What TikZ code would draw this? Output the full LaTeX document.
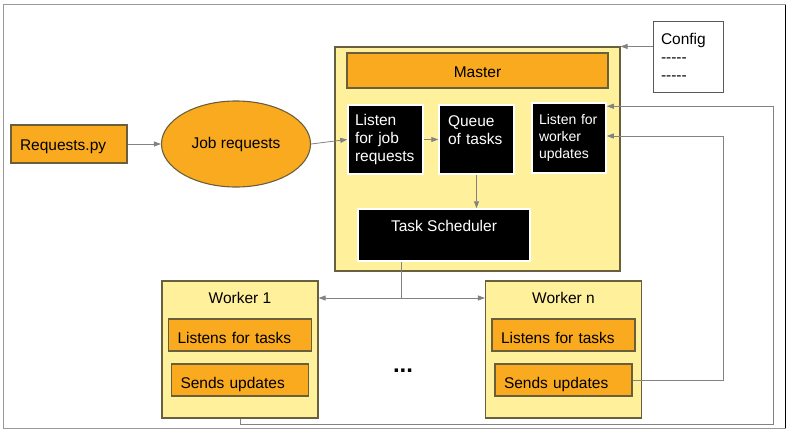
\documentclass[tikz,border=0pt]{standalone}
\usepackage{fontspec}
\setmainfont{Liberation Sans}
\usetikzlibrary{arrows.meta, positioning, calc, shapes.geometric}
\definecolor{boxyellow}{RGB}{255,240,155}
\definecolor{boxorange}{RGB}{250,170,30}
\definecolor{boxedge}{RGB}{105,95,60}
\definecolor{wiregray}{RGB}{130,130,130}
\newcommand{\dashrow}{-\kern0pt-\kern0pt-\kern0pt-\kern0pt-}

\begin{document}
\begin{tikzpicture}[
    x=1pt, y=-1pt,
    font=\fontsize{15.5}{18}\selectfont,
    panel/.style={rectangle, draw=boxedge, line width=1.1pt, fill=boxyellow},
    orangebox/.style={rectangle, draw=boxedge, line width=1.1pt, fill=boxorange,
                      minimum height=32pt, inner xsep=9pt, align=left,
                      text height=16pt, text depth=0pt},
    darkbox/.style={rectangle, draw=white, line width=1.5pt, fill=black,
                    text=white, inner xsep=7pt, align=left},
    arr/.style={draw=wiregray, line width=0.8pt, -{Triangle[length=7pt, width=5pt]}},
    wire/.style={draw=wiregray, line width=0.8pt}
]
\useasboundingbox (0,0) rectangle (791,433);
\draw[gray!80, line width=1pt] (3,5) rectangle (785,428);
\draw[black, line width=1pt] (785,5) -- (785,428);

\node[orangebox, text width=98pt, minimum height=38pt, text height=13pt] (req) at (69,144) {Requests.py};
\node[ellipse, draw=boxedge, line width=1.1pt, fill=boxorange,
      minimum width=149pt, minimum height=86pt] (job) at (236,144) {Job requests};

% master and its parts
\node[panel, minimum width=285pt, minimum height=224pt] (master) at (477.5,159) {};
\node[orangebox, minimum width=261pt, minimum height=35pt, text height=14pt] (head) at (477.5,70.5) {Master};
\node[darkbox, text width=61pt, minimum height=69pt] (ljob) at (385.5,139.5)
     {Listen\\for job\\requests};
\node[darkbox, text width=57pt, inner xsep=9pt, minimum height=69pt] (queue) at (476.5,139.5)
     {Queue\\of tasks\\~};
\node[darkbox, text width=60pt, minimum height=70pt, font=\fontsize{14}{17}\selectfont]
     (lworker) at (569,138) {Listen for\\worker\\updates};
\node[darkbox, align=center, minimum width=172pt, minimum height=52pt] (sched) at (444,235)
     {Task Scheduler\\~};

\node[rectangle, draw=gray!70!black, fill=white, line width=0.9pt, minimum width=70pt,
      minimum height=71pt, text width=54pt, inner xsep=8pt, align=left] (config) at (688,56.5)
     {Config\\\dashrow\\\dashrow};

\foreach \w/\x in {1/240, n/563.5}{
    \node[panel, minimum width=156pt, minimum height=137pt] (w\w) at (\x,349.5) {};
    \node (wt\w) at (\x,298) {Worker \w};
    \node[orangebox, text width=125pt] (lt\w) at (\x,335) {Listens for tasks};
    \node[orangebox, text width=119pt] (su\w) at (\x,380) {Sends updates};
}
\node[font=\fontsize{24}{24}\selectfont\bfseries] (dots) at (403,371) {...};

\draw[arr] (req) -- (job);
\draw[arr] (job.east) -- (ljob.west);
\draw[arr] (ljob) -- (queue);
\draw[arr] (queue) -- (queue |- sched.north);
\draw[arr] (config.west |- master.north) -- (master.north east);

\coordinate (fork) at (401,298);
\draw[wire] (fork |- sched.south) -- (fork);
\draw[arr] (fork) -- (w1.east |- fork);
\draw[arr] (fork) -- (wn.west |- fork);

% updates going back to the master
\coordinate (upright) at (723,380);
\draw[arr] (sun.east) -- (upright) |- ([yshift=2pt]lworker.east);
\coordinate (b1) at (240,424);
\coordinate (b2) at (773,424);
\draw[arr] (w1.south) -- (b1) -- (b2) |- ([yshift=-4pt]lworker.north east);
\end{tikzpicture}
\end{document}
